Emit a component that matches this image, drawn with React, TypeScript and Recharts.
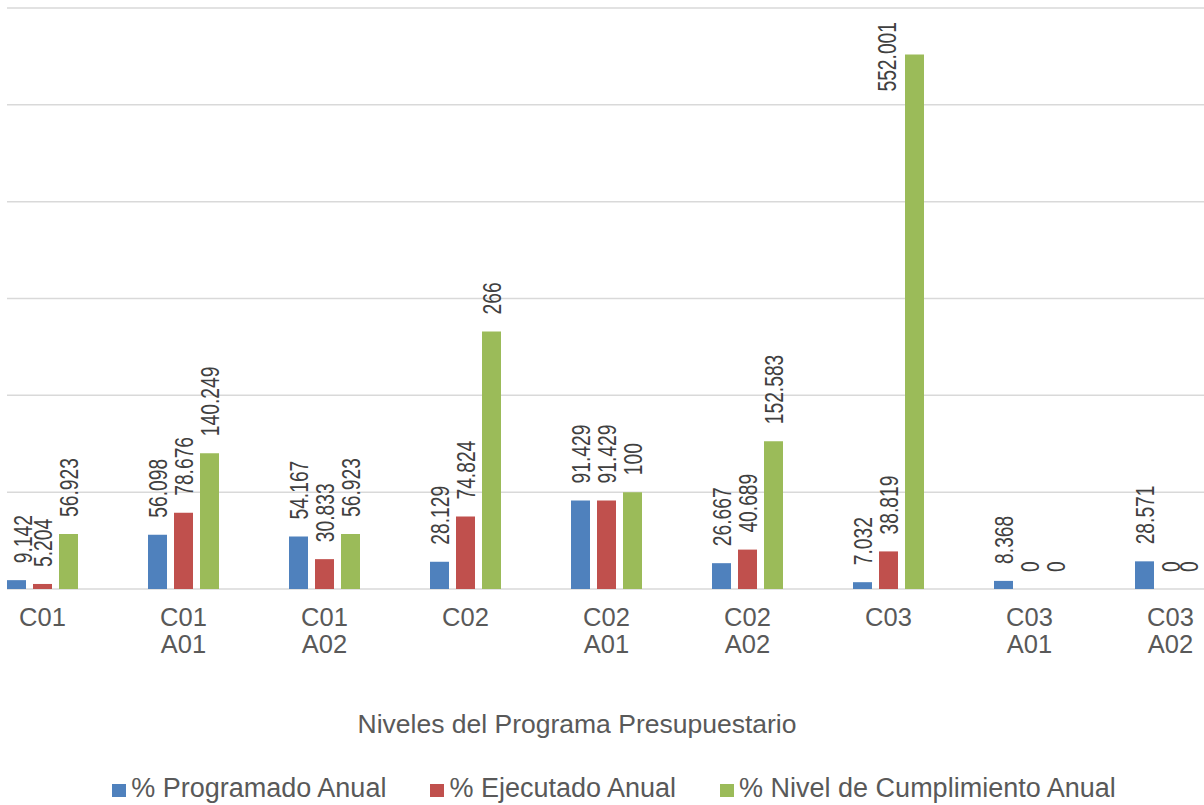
import React from "react";
import { BarChart, Bar, XAxis, YAxis, CartesianGrid, Legend, LabelList } from "recharts";

const categories = ["C01", "C01 A01", "C01 A02", "C02", "C02 A01", "C02 A02", "C03", "C03 A01", "C03 A02"];
const programado = [9.142, 56.098, 54.167, 28.129, 91.429, 26.667, 7.032, 8.368, 28.571];
const ejecutado = [5.204, 78.676, 30.833, 74.824, 91.429, 40.689, 38.819, 0, 0];
const cumplimiento = [56.923, 140.249, 56.923, 266, 100, 152.583, 552.001, 0, 0];
const yTicks = [0, 100, 200, 300, 400, 500, 600];
const seriesNames = ["% Programado Anual", "% Ejecutado Anual", "% Nivel de Cumplimiento Anual"];
const seriesColors = ["#4F81BD", "#C0504D", "#9BBB59"];
const axisTitle = "Niveles del Programa Presupuestario";

const data = categories.map((c, i) => ({
  name: c,
  programado: programado[i],
  ejecutado: ejecutado[i],
  cumplimiento: cumplimiento[i],
}));

const FONT = '"Liberation Sans", Arial, sans-serif';
const LABEL_SIZE = 25;
const LABEL_SQUEEZE = 0.77;

// rough text length, used only to keep labels inside the chart
const textLen = (s: string) => {
  let w = 0;
  for (const ch of s) w += ch === "." ? 0.278 : 0.556;
  return w * LABEL_SIZE * LABEL_SQUEEZE;
};

// rotated labels above each bar, a bit condensed like the original
const ValueLabel = (props: any) => {
  const { x, y, width, value } = props;
  const s = String(value);
  let cx = Math.max(Math.min(Number(x) + Number(width) / 2, 1217), 50.5);
  let by = Number(y) - 17;
  let anchor = "start";
  if (by - textLen(s) < 20) {
    // no room above: pin to the top and move beside the bar
    by = 22;
    anchor = "end";
    cx = Number(x) - 18.5;
  }
  return (
    <text
      transform={`translate(${cx + 9},${by}) rotate(-90) scale(${LABEL_SQUEEZE},1)`}
      textAnchor={anchor}
      fontSize={LABEL_SIZE}
      fontFamily={FONT}
      fill="#404040"
    >
      {s}
    </text>
  );
};

const CategoryTick = (props: any) => {
  const { x, y, payload } = props;
  const lines = String(payload.value).split(" ");
  return (
    <g transform={`translate(${x},${y})`}>
      {lines.map((l, i) => (
        <text key={i} x={0} y={37 + i * 27} textAnchor="middle" fontSize={25.5} fontFamily={FONT} fill="#595959">
          {l}
        </text>
      ))}
    </g>
  );
};

const AxisTitle = (props: any) => {
  const vb = props.viewBox || {};
  return (
    <text
      x={vb.x + vb.width / 2 - 29.5}
      y={vb.y + 144}
      textAnchor="middle"
      fontSize={26.5}
      fontFamily={FONT}
      fill="#595959"
    >
      {axisTitle}
    </text>
  );
};

const LegendBox = () => (
  <div
    style={{
      position: "relative",
      top: -1,
      height: 40,
      display: "flex",
      justifyContent: "center",
      alignItems: "flex-end",
      gap: 44,
      paddingLeft: 15,
      boxSizing: "border-box",
      fontFamily: FONT,
      fontSize: 27,
      color: "#595959",
    }}
  >
    {seriesNames.map((n, i) => (
      <div key={n} style={{ display: "flex", alignItems: "baseline" }}>
        <span style={{ display: "inline-block", width: 14, height: 13, background: seriesColors[i], marginRight: 5 }} />
        <span>{n}</span>
      </div>
    ))}
  </div>
);

export default function App() {
  return (
    <div style={{ position: "absolute", left: 0, top: 0, width: 1204, height: 805, background: "#fff", overflow: "hidden", fontFamily: FONT }}>
      <div style={{ position: "absolute", left: 7, top: 0, width: 1197, height: 805, overflow: "hidden" }}>
        <div style={{ position: "absolute", left: -35, top: 0 }}>
          <BarChart width={1269} height={805} data={data} margin={{ top: 8, right: 0, bottom: 0, left: 0 }} barGap={7} barSize={19}>
            <CartesianGrid vertical={false} stroke="#d9d9d9" strokeWidth={1.5} />
            <YAxis hide domain={[0, 600]} ticks={yTicks} />
            <XAxis
              dataKey="name"
              height={176}
              axisLine={false}
              tickLine={false}
              tickSize={0}
              tickMargin={0}
              interval={0}
              tick={<CategoryTick />}
              label={<AxisTitle />}
            />
            <Legend verticalAlign="bottom" content={<LegendBox />} />
            <Bar dataKey="programado" name={seriesNames[0]} fill={seriesColors[0]} minPointSize={0.01} isAnimationActive={false}>
              <LabelList dataKey="programado" content={<ValueLabel />} />
            </Bar>
            <Bar dataKey="ejecutado" name={seriesNames[1]} fill={seriesColors[1]} minPointSize={0.01} isAnimationActive={false}>
              <LabelList dataKey="ejecutado" content={<ValueLabel />} />
            </Bar>
            <Bar dataKey="cumplimiento" name={seriesNames[2]} fill={seriesColors[2]} minPointSize={0.01} isAnimationActive={false}>
              <LabelList dataKey="cumplimiento" content={<ValueLabel />} />
            </Bar>
          </BarChart>
        </div>
      </div>
    </div>
  );
}
